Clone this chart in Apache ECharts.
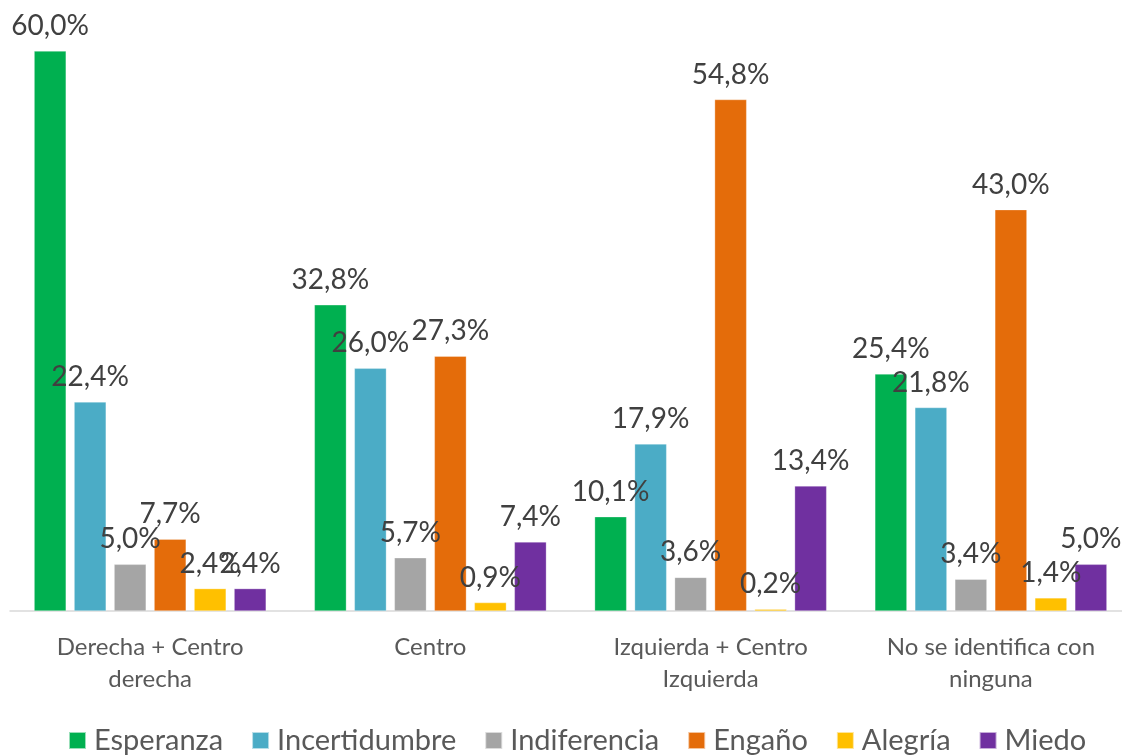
<!DOCTYPE html>
<html lang="es">
<head>
    <meta charset="UTF-8">
    <title>Emociones por identificación política</title>
    <script src="https://cdn.jsdelivr.net/npm/echarts@6/dist/echarts.min.js"></script>
    <style>
        html, body { margin: 0; padding: 0; background: #fff; overflow: hidden; }
        #main { width: 1142px; height: 756px; }
    </style>
</head>
<body>
    <div id="main"></div>
    <script>
        // datos
        let categorias = ['Derecha + Centro\nderecha', 'Centro', 'Izquierda + Centro\nIzquierda', 'No se identifica con\nninguna'];
        let esperanza = [60.0, 32.8, 10.1, 25.4];
        let incertidumbre = [22.4, 26.0, 17.9, 21.8];
        let indiferencia = [5.0, 5.7, 3.6, 3.4];
        let engano = [7.7, 27.3, 54.8, 43.0];
        let alegria = [2.4, 0.9, 0.2, 1.4];
        let miedo = [2.4, 7.4, 13.4, 5.0];

        let nombres = ['Esperanza', 'Incertidumbre', 'Indiferencia', 'Engaño', 'Alegría', 'Miedo'];
        let valores = [esperanza, incertidumbre, indiferencia, engano, alegria, miedo];
        let colores = ['#00b050', '#4bacc6', '#a5a5a5', '#e46c0a', '#ffc000', '#7030a0'];

        let chart = echarts.init(document.getElementById('main'));

        let series = nombres.map(function (n, i) {
            return {
                name: n,
                type: 'bar',
                data: valores[i],
                barWidth: 32,
                barGap: '25%',
                itemStyle: {
                    color: colores[i],
                    borderColor: 'rgba(255,255,255,0.6)',
                    borderWidth: 0.5
                },
                label: {
                    show: true,
                    position: 'top',
                    distance: 11,
                    fontFamily: 'Lato',
                    fontSize: 28,
                    color: '#404040',
                    formatter: function (p) {
                        return p.value.toFixed(1).replace('.', ',') + '%';
                    }
                }
            };
        });

        chart.setOption({
            animation: false,
            textStyle: { fontFamily: 'Lato' },
            grid: {
                left: 10,
                width: 1121,
                top: 51,
                bottom: 145
            },
            legend: {
                top: 721,
                left: 63,
                itemWidth: 17,
                itemHeight: 17,
                itemGap: 28,
                icon: 'rect',
                textStyle: {
                    fontFamily: 'Lato',
                    fontSize: 29,
                    color: '#595959',
                    padding: [0, 0, 0, 3]
                },
                data: nombres
            },
            xAxis: {
                type: 'category',
                data: categorias,
                axisLine: { lineStyle: { color: '#d9d9d9', width: 1.5 } },
                axisTick: { show: false },
                axisLabel: {
                    fontFamily: 'Lato',
                    fontSize: 24,
                    color: '#595959',
                    lineHeight: 32,
                    margin: 20,
                    interval: 0
                }
            },
            yAxis: {
                type: 'value',
                min: 0,
                max: 60,
                show: false,
                splitLine: { show: false }
            },
            series: series
        });
    </script>
</body>
</html>
